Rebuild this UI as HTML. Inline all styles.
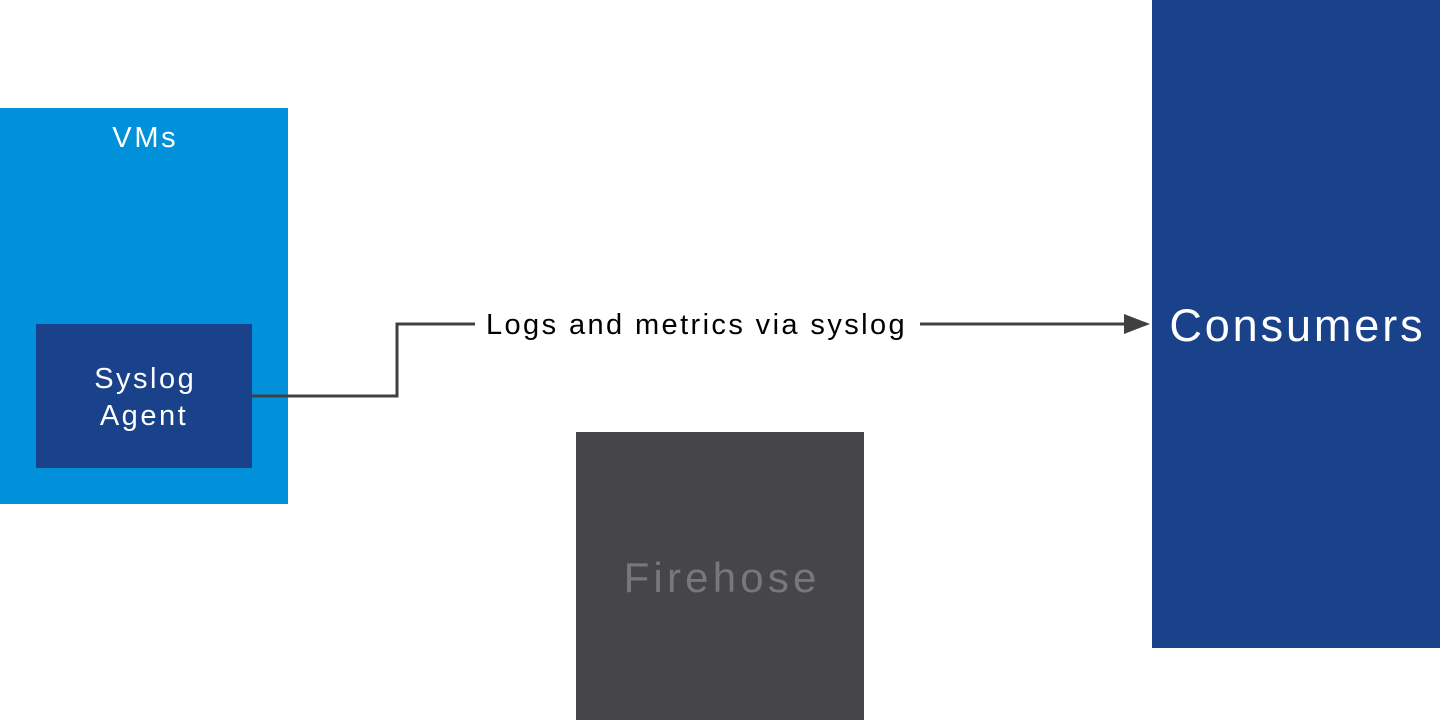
<!DOCTYPE html>
<html><head><style>
html,body{margin:0;padding:0;width:1440px;height:720px;background:#fff;overflow:hidden;font-family:"Liberation Sans",sans-serif;}
.a{position:absolute;}
</style></head><body>
<div class="a" style="left:0;top:108px;width:288px;height:396px;background:#0091da;"></div>
<div class="a" style="left:0;top:122px;width:288px;text-align:center;color:#fff;font-size:29px;letter-spacing:2.7px;text-indent:2.7px;">VMs</div>
<div class="a" style="left:36px;top:324px;width:216px;height:144px;background:#1a428a;"></div>
<div class="a" style="left:36px;top:361px;width:216px;text-align:center;color:#fff;font-size:29px;line-height:37px;letter-spacing:2.5px;text-indent:2.5px;">Syslog<br>Agent</div>
<div class="a" style="left:576px;top:432px;width:288px;height:288px;background:#464648;"></div>
<div class="a" style="left:576px;top:554px;width:288px;text-align:center;color:#78787a;font-size:42px;letter-spacing:4.2px;text-indent:4.2px;">Firehose</div>
<div class="a" style="left:1152px;top:0;width:288px;height:648px;background:#1a428a;"></div>
<div class="a" style="left:1152px;top:300px;width:288px;text-align:center;color:#fff;font-size:45px;letter-spacing:2.9px;text-indent:2.9px;">Consumers</div>
<svg class="a" style="left:0;top:0" width="1440" height="720">
<polyline points="252,396 397,396 397,324 475,324" fill="none" stroke="#404040" stroke-width="3"/>
<line x1="920" y1="324" x2="1128" y2="324" stroke="#404040" stroke-width="3"/>
<polygon points="1150,324 1124,314 1124,334" fill="#404040"/>
</svg>
<div class="a" style="left:486px;top:309px;color:#000;font-size:29px;letter-spacing:2.4px;white-space:nowrap;">Logs and metrics via syslog</div>
</body></html>
